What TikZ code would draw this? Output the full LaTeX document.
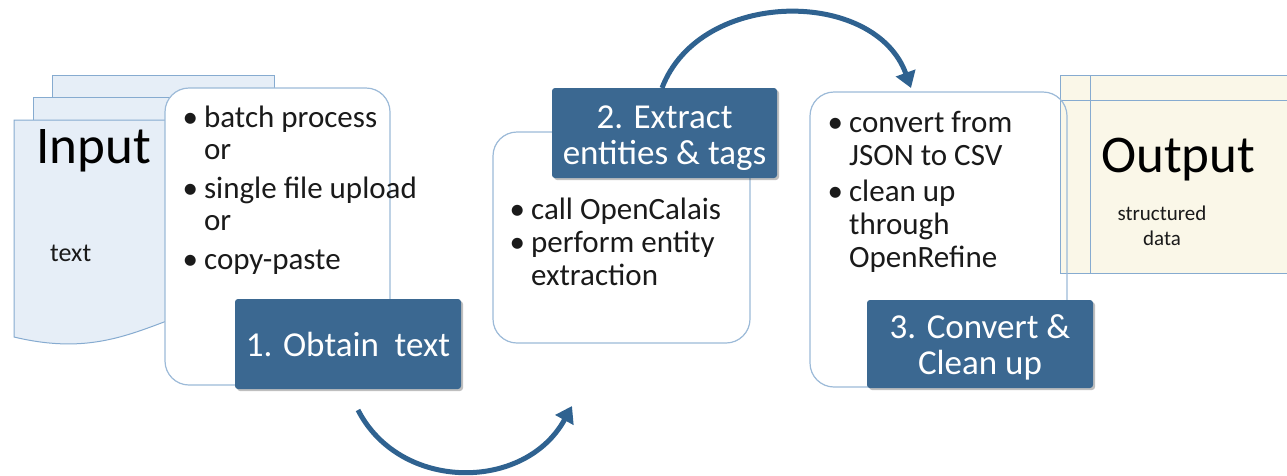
\documentclass[tikz,border=0pt]{standalone}
\usepackage{fontspec}
\setmainfont{Carlito}
\usetikzlibrary{arrows.meta}
\definecolor{labelblue}{HTML}{3B6891}
\definecolor{arrowblue}{HTML}{2F6290}
\definecolor{edgeblue}{HTML}{9CBAD8}
\definecolor{pageblue}{HTML}{E6EEF7}
\definecolor{pageedge}{HTML}{86ABD0}
\definecolor{cream}{HTML}{FAF7E8}
\definecolor{textgray}{HTML}{1A1A1A}
\newcommand{\lbltext}[2][-4pt]{\raisebox{#1}[\height][\depth]{\begin{tabular}{@{}c@{}}#2\end{tabular}}}
\tikzset{
  panel/.style={draw=edgeblue, line width=1.2pt, fill=white, rounded corners=24pt},
  labelbox/.style={fill=labelblue, text=white, align=center, inner sep=0pt,
    font=\fontsize{35}{36}\selectfont, rounded corners=3pt,
    preaction={fill=black, fill opacity=0.25, transform canvas={shift={(2pt,-2pt)}}}},
  page/.style={draw=pageedge, line width=1pt, fill=pageblue},
  flow/.style={draw=arrowblue, line width=5pt, -{Triangle[length=16pt,width=20pt]}},
  bullets/.style={anchor=base west, inner sep=0pt, align=left, text=textgray},
}
\begin{document}
\begin{tikzpicture}[x=1pt,y=-1pt]
\useasboundingbox (0,0) rectangle (1287,475);
% input pages
\draw[page] (52,75) rectangle (274,300);
\draw[page] (33,97) rectangle (255,320);
\draw[page] (14,120) -- (230,120) -- (230,300) .. controls (150,320) and (110,360) .. (14,337) -- cycle;
\node[anchor=base west, inner sep=0pt, font=\fontsize{53}{56}\selectfont] (inp) at (36,163) {Input};
\node[anchor=base west, inner sep=0pt, font=\fontsize{26}{28}\selectfont, text=textgray] (intext) at (50,261) {text};
% box 1
\draw[panel] (165,88) rectangle (390,385);
\node[bullets, font=\fontsize{31}{32}\selectfont] (b1) at (182.5,127) {\begin{tabular}[t]{@{}l@{\hskip 6pt}l@{}}
\textbullet & batch process\\
 & or\\[7pt]
\textbullet & single file upload\\
 & or\\[7pt]
\textbullet & copy-paste
\end{tabular}};
\node[labelbox, minimum width=226pt, minimum height=90pt] (l1) at (348,344) {\lbltext[-5pt]{1. Obtain\ \ text}};
% box 2
\draw[panel] (493,132) rectangle (750,343);
\node[labelbox, minimum width=225pt, minimum height=90pt] (l2) at (664.5,133) {\lbltext[-6pt]{2. Extract\\entities \& tags}};
\node[bullets, font=\fontsize{31}{33}\selectfont] (b2) at (509.5,219) {\begin{tabular}[t]{@{}l@{\hskip 6pt}l@{}}
\textbullet & call OpenCalais\\
\textbullet & perform entity\\
 & extraction
\end{tabular}};
% output
\fill[white] (810,92) rectangle (1067,387);
\draw[draw=pageedge, line width=1pt, fill=cream] (1060,75) rectangle (1300,273);
\draw[draw=pageedge, line width=1pt] (1090,75) -- (1090,273);
\draw[draw=pageedge, line width=1pt] (1060,100) -- (1300,100);
\node[anchor=base west, inner sep=0pt, font=\fontsize{53}{56}\selectfont] (outp) at (1101,172) {Output};
\node[anchor=base, inner sep=0pt, align=center, font=\fontsize{21}{25}\selectfont, text=textgray] (outtext) at (1162,245) {structured\\data};
% box 3
\draw[panel, fill=none] (810,92) rectangle (1067,387);
\node[bullets, font=\fontsize{31}{33}\selectfont] (b3) at (827.5,132) {\begin{tabular}[t]{@{}l@{\hskip 6pt}l@{}}
\textbullet & convert from\\
 & JSON to CSV\\[3pt]
\textbullet & clean up\\
 & through\\
 & OpenRefine
\end{tabular}};
\node[labelbox, minimum width=226pt, minimum height=88pt] (l3) at (980,344) {\lbltext[-5pt]{3. Convert \&\\Clean up}};
% arrows
\coordinate (a1s) at (358,410);
\coordinate (a1e) at (572,406);
\coordinate (a2s) at (662,88);
\coordinate (a2e) at (911,88);
\draw[flow] (a1s) .. controls (400,492) and (525,492) .. (a1e);
\draw[flow] (a2s) .. controls (700,-12) and (875,-12) .. (a2e);
\end{tikzpicture}
\end{document}
